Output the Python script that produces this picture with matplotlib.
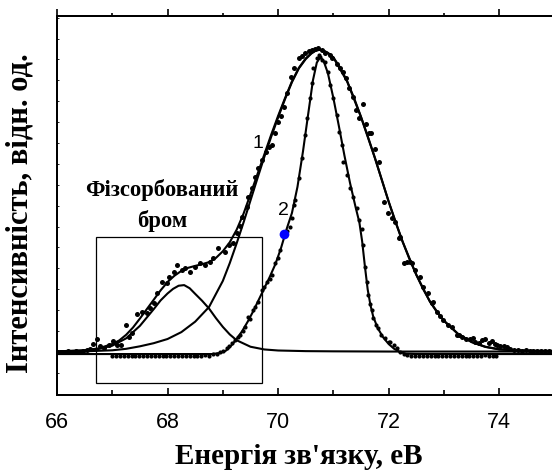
# XPS Br 3d spectra: two measurements with fit lines and the physisorbed-bromine component
import matplotlib
matplotlib.use("Agg")
from matplotlib import pyplot as plt
from matplotlib.ticker import MultipleLocator
from matplotlib.patches import Rectangle

# spectrum 1 (broad) - measured points
x1 = [66.0, 66.07, 66.14, 66.2, 66.27, 66.34, 66.4, 66.47, 66.54, 66.6, 66.65, 66.72, 66.78, 66.85,
      66.94, 67.01, 67.09, 67.15, 67.24, 67.3, 67.36, 67.45, 67.54, 67.63, 67.68, 67.75, 67.81, 67.9,
      67.99, 68.02, 68.11, 68.17, 68.26, 68.32, 68.41, 68.5, 68.59, 68.68, 68.77, 68.83, 68.92, 69.04,
      69.12, 69.19, 69.25, 69.31, 69.34, 69.43, 69.46, 69.52, 69.58, 69.64, 69.71, 69.78, 69.84, 69.89,
      69.95, 70.0, 70.06, 70.1, 70.16, 70.23, 70.29, 70.37, 70.43, 70.49, 70.55, 70.61, 70.67, 70.73,
      70.79, 70.85, 70.93, 70.97, 71.06, 71.12, 71.17, 71.23, 71.29, 71.35, 71.41, 71.47, 71.53, 71.59,
      71.65, 71.68, 71.76, 71.83, 71.91, 71.98, 72.06, 72.12, 72.18, 72.21, 72.27, 72.33, 72.39, 72.42,
      72.48, 72.56, 72.63, 72.71, 72.78, 72.8, 72.87, 72.93, 72.99, 73.07, 73.14, 73.23, 73.28, 73.32,
      73.4, 73.47, 73.52, 73.57, 73.63, 73.69, 73.75, 73.81, 73.87, 73.92, 73.96, 74.02, 74.08, 74.14,
      74.2, 74.27, 74.34, 74.41, 74.48, 74.55, 74.62, 74.69, 74.76, 74.83, 74.9, 74.97]
y1 = [0.0, 0.02, -0.02, 0.03, 0.0, 0.05, 0.02, 0.06, 0.1, 0.12, 0.38, 0.62, 0.29, 0.2,
      0.35, 0.53, 0.34, 0.33, 1.29, 0.7, 0.89, 1.82, 1.93, 1.85, 2.09, 2.33, 2.84, 3.37,
      3.29, 3.6, 3.84, 4.16, 3.92, 4.0, 3.84, 4.05, 4.24, 4.15, 4.32, 4.48, 4.96, 4.77,
      5.1, 5.2, 5.7, 6.03, 6.47, 6.95, 7.43, 7.83, 8.39, 8.79, 9.19, 9.58, 9.8, 9.9,
      10.46, 11.0, 11.3, 11.74, 12.38, 13.17, 13.6, 14.05, 14.18, 14.3, 14.4, 14.45, 14.5, 14.53,
      14.45, 14.29, 14.2, 14.05, 13.8, 13.57, 13.41, 13.1, 12.62, 12.2, 11.58, 11.18, 11.85, 10.9,
      10.46, 10.46, 9.7, 9.07, 7.19, 6.63, 6.4, 6.23, 5.44, 5.49, 4.24, 4.3, 4.32, 4.24,
      3.92, 3.6, 3.12, 2.81, 2.33, 2.41, 1.93, 1.7, 1.53, 1.3, 1.21, 0.81, 0.8, 0.73,
      0.6, 0.61, 0.65, 0.49, 0.45, 0.57, 0.61, 0.45, 0.54, 0.4, 0.33, 0.3, 0.29, 0.22,
      0.15, 0.1, 0.08, 0.06, 0.07, 0.05, 0.06, 0.04, 0.05, 0.06, 0.04, 0.05]

# spectrum 1 - fit envelope
fx1 = [66.0, 66.5, 66.75, 67.0, 67.125, 67.25, 67.375, 67.5, 67.625, 67.75, 67.875, 68.0, 68.125,
       68.25, 68.375, 68.5, 68.625, 68.75, 68.875, 69.0, 69.125, 69.25, 69.375, 69.5, 69.625, 69.75,
       69.875, 70.0, 70.125, 70.25, 70.375, 70.5, 70.6, 70.68, 70.75, 70.82, 70.9, 71.0, 71.125,
       71.25, 71.375, 71.5, 71.625, 71.75, 71.875, 72.0, 72.125, 72.25, 72.375, 72.5, 72.625, 72.75,
       72.875, 73.0, 73.25, 73.5, 73.75, 74.0, 74.5, 75.0]
fy1 = [0.03, 0.08, 0.17, 0.38, 0.55, 0.82, 1.17, 1.6, 2.05, 2.5, 2.95, 3.35, 3.65,
       3.88, 4.03, 4.12, 4.2, 4.3, 4.5, 4.82, 5.25, 5.85, 6.62, 7.55, 8.5, 9.45,
       10.4, 11.3, 12.15, 12.95, 13.6, 14.05, 14.3, 14.43, 14.47, 14.43, 14.32, 14.1, 13.6,
       12.95, 12.15, 11.25, 10.3, 9.3, 8.25, 7.2, 6.2, 5.3, 4.45, 3.7, 3.0, 2.4,
       1.9, 1.5, 0.88, 0.48, 0.25, 0.13, 0.06, 0.05]

# spectrum 1 - chemisorbed component
mx1 = [66.0, 66.5, 67.0, 67.25, 67.5, 67.75, 68.0, 68.25, 68.5, 68.75, 69.0, 69.125, 69.25, 69.375,
       69.5, 69.625, 69.75, 69.875, 70.0, 70.125, 70.25, 70.375, 70.5, 70.6, 70.68, 70.75, 70.82,
       70.9, 71.0, 71.25, 71.5, 71.75, 72.0, 72.25, 72.5, 72.75, 73.0, 73.25, 73.5, 73.75, 74.0,
       74.5, 75.0]
my1 = [0.01, 0.03, 0.08, 0.15, 0.27, 0.42, 0.62, 0.95, 1.45, 2.15, 3.4, 4.25, 5.2, 6.2,
       7.25, 8.3, 9.33, 10.3, 11.22, 12.1, 12.91, 13.57, 14.02, 14.28, 14.42, 14.46, 14.42,
       14.31, 14.09, 12.94, 11.24, 9.29, 7.19, 5.29, 3.69, 2.39, 1.49, 0.87, 0.47, 0.24, 0.12,
       0.05, 0.04]

# spectrum 1 - physisorbed bromine component
px1 = [66.0, 66.5, 66.75, 67.0, 67.25, 67.5, 67.625, 67.75, 67.875, 68.0, 68.1, 68.2, 68.3, 68.4,
       68.5, 68.625, 68.75, 68.875, 69.0, 69.125, 69.25, 69.5, 69.75, 70.0, 70.5, 71.0, 72.0, 75.0]
py1 = [0.02, 0.07, 0.14, 0.3, 0.65, 1.25, 1.65, 2.05, 2.47, 2.8, 3.02, 3.17, 3.2, 3.05,
       2.78, 2.45, 2.08, 1.62, 1.2, 0.84, 0.56, 0.25, 0.12, 0.07, 0.04, 0.03, 0.02, 0.02]

# spectrum 2 (narrow) - measured points
x2 = [67.0, 67.07, 67.14, 67.21, 67.28, 67.35, 67.42, 67.49, 67.56, 67.63, 67.7, 67.77, 67.84,
      67.91, 67.98, 68.05, 68.12, 68.19, 68.26, 68.33, 68.4, 68.47, 68.54, 68.61, 68.68, 68.75,
      68.82, 68.89, 68.95, 69.01, 69.07, 69.12, 69.16, 69.22, 69.27, 69.31, 69.36, 69.4, 69.46,
      69.5, 69.55, 69.58, 69.64, 69.7, 69.75, 69.8, 69.86, 69.89, 69.95, 70.0, 70.04, 70.16,
      70.22, 70.25, 70.28, 70.31, 70.37, 70.43, 70.49, 70.53, 70.58, 70.61, 70.64, 70.7, 70.74,
      70.76, 70.79, 70.85, 70.91, 70.94, 71.0, 71.06, 71.11, 71.15, 71.18, 71.24, 71.3, 71.36,
      71.42, 71.47, 71.51, 71.54, 71.57, 71.6, 71.63, 71.67, 71.7, 71.72, 71.77, 71.81, 71.87,
      71.94, 72.0, 72.03, 72.09, 72.15, 72.2, 72.27, 72.34, 72.41, 72.48, 72.55, 72.62, 72.69,
      72.76, 72.83, 72.9, 72.97, 73.04, 73.11, 73.18, 73.25, 73.32, 73.39, 73.46, 73.53, 73.6,
      73.67, 73.74, 73.81, 73.88, 73.95]
y2 = [-0.18, -0.2, -0.17, -0.19, -0.21, -0.18, -0.2, -0.17, -0.19, -0.2, -0.18, -0.21, -0.19,
      -0.17, -0.2, -0.18, -0.19, -0.21, -0.18, -0.2, -0.17, -0.19, -0.2, -0.18, -0.16, -0.17,
      -0.12, -0.08, 0.0, 0.05, 0.18, 0.3, 0.42, 0.57, 0.7, 0.81, 1.0, 1.21, 1.69,
      1.6, 2.0, 2.17, 2.41, 2.97, 3.1, 3.36, 3.5, 3.68, 4.24, 4.5, 4.88, 5.8,
      6.0, 6.4, 7.03, 7.27, 8.31, 9.27, 10.38, 11.18, 12.14, 12.86, 13.57, 14.05, 14.2,
      14.13, 13.97, 13.9, 13.41, 12.78, 12.14, 11.34, 10.54, 9.9, 9.1, 8.47, 7.83, 7.4,
      6.9, 6.3, 5.9, 5.12, 4.08, 3.36, 2.73, 2.3, 2.01, 1.61, 1.3, 1.13, 0.81,
      0.65, 0.5, 0.49, 0.33, 0.18, 0.0, -0.1, -0.15, -0.18, -0.2, -0.17, -0.19, -0.2,
      -0.18, -0.21, -0.19, -0.17, -0.2, -0.18, -0.19, -0.21, -0.18, -0.2, -0.17, -0.19, -0.2,
      -0.18, -0.16, -0.19, -0.17, -0.2]

# highlighted point on spectrum 2
hx2 = [70.11]
hy2 = [5.63]

# spectrum 2 - fit line
fx2 = [66.0, 68.8, 68.95, 69.05, 69.15, 69.25, 69.35, 69.45, 69.55, 69.65, 69.75, 69.85, 69.95,
       70.05, 70.15, 70.25, 70.35, 70.45, 70.55, 70.63, 70.7, 70.76, 70.82, 70.9, 71.0, 71.1,
       71.2, 71.3, 71.4, 71.47, 71.52, 71.57, 71.62, 71.67, 71.72, 71.8, 71.9, 72.0, 72.1,
       72.2, 72.3, 72.5, 75.0]
fy2 = [-0.1, -0.1, -0.05, 0.05, 0.3, 0.62, 1.0, 1.45, 1.95, 2.5, 3.05, 3.6, 4.2,
       4.95, 5.85, 6.65, 7.9, 9.6, 11.5, 13.0, 13.85, 14.1, 13.95, 13.35, 12.15, 10.8,
       9.4, 8.1, 6.95, 6.2, 5.3, 4.1, 3.0, 2.25, 1.7, 1.15, 0.7, 0.38, 0.15,
       0.0, -0.08, -0.1, -0.1]

# box around the physisorbed bromine region
box_x = [66.71, 69.71]
box_y = [-1.48, 5.5]

serif = ["Liberation Serif", "DejaVu Serif"]
sans = ["Liberation Sans", "DejaVu Sans"]

fig = plt.figure(figsize=(5.52, 4.75), dpi=100)
ax = fig.add_axes([57 / 552, 1 - 395 / 475, 497.5 / 552, 379 / 475])

ax.plot(fx1, fy1, color="black", lw=1.5)
ax.plot(mx1, my1, color="black", lw=1.5)
ax.plot(px1, py1, color="black", lw=1.5)
ax.plot(fx2, fy2, color="black", lw=1.5)
ax.plot(x1, y1, "o", color="black", ms=3.6, mew=0)
ax.plot(x2, y2, "o", color="black", ms=3.0, mew=0)
ax.plot(hx2, hy2, "o", color="#0000ff", ms=7, mew=0)

ax.add_patch(Rectangle((box_x[0], box_y[0]), box_x[1] - box_x[0], box_y[1] - box_y[0],
                       fill=False, edgecolor="black", lw=0.9))

ax.set_xlim(66, 75)
ax.set_ylim(-2.06, 16.08)

ax.xaxis.set_major_locator(MultipleLocator(2))
ax.xaxis.set_minor_locator(MultipleLocator(1))
ax.yaxis.set_major_locator(MultipleLocator(1))
ax.tick_params(axis="x", which="major", direction="in", length=5, width=1.2,
               labelsize=15.5, pad=12)
ax.tick_params(axis="x", which="minor", direction="in", length=3.5, width=1.2)
ax.tick_params(axis="y", which="major", direction="in", length=1.5, width=0.6,
               labelleft=False)
for lab in ax.get_xticklabels():
    lab.set_family(sans)

for s in ax.spines.values():
    s.set_linewidth(1.4)

# top axis with outward ticks
top = ax.twiny()
top.set_xlim(ax.get_xlim())
top.xaxis.set_major_locator(MultipleLocator(2))
top.xaxis.set_minor_locator(MultipleLocator(1))
top.tick_params(axis="x", which="major", direction="out", length=5, width=1.2, labeltop=False)
top.tick_params(axis="x", which="minor", direction="out", length=2.5, width=1.2)
top.tick_params(axis="y", left=False, right=False, labelleft=False, labelright=False)
for s in top.spines.values():
    s.set_linewidth(1.4)

ax.text(69.63, 10.0, "1", family=sans, fontsize=14, ha="center", va="center")
ax.text(70.1, 6.75, "2", family=sans, fontsize=14, ha="center", va="center")
ax.text(67.9, 7.0, "Фізсорбований\nбром", family=serif, fontweight="bold", fontsize=16.3,
        ha="center", va="center", multialignment="center", linespacing=1.55)

fig.text(298.5 / 552, 1 - 457 / 475, "Енергія зв'язку, еВ", family=serif, fontweight="bold",
         fontsize=21, ha="center", va="center")
fig.text(20 / 552, 1 - 213 / 475, "Інтенсивність, відн. од.", family=serif, fontweight="bold",
         fontsize=22, ha="center", va="center", rotation=90)

fig.savefig("out.png", dpi=100)
